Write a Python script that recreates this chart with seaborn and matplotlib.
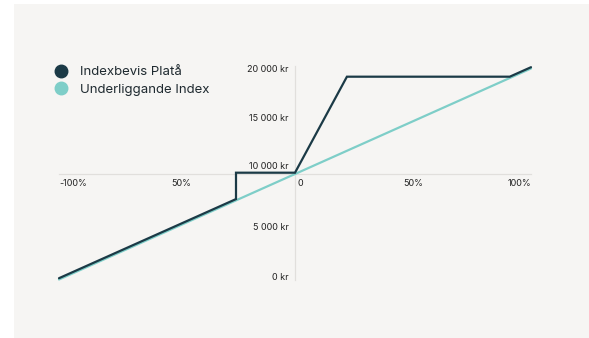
import matplotlib
matplotlib.use("Agg")
import matplotlib.pyplot as plt
import matplotlib.transforms as mtransforms
from matplotlib.lines import Line2D
import numpy as np
import pandas as pd
import seaborn as sns

# Index change (%) and value of a 10 000 kr investment
plata_change = [-100, -25, -25, 0, 22, 91, 100]
plata_value = [0, 7500, 10000, 10000, 19100, 19100, 20000]
index_change = [-100, 100]
index_value = [0, 20000]

series_names = ["Indexbevis Platå", "Underliggande Index"]
series_colors = ["#1b3a46", "#7ecec8"]

x_ticks = [-100, -50, 0, 50, 100]
x_tick_labels = ["-100%", "50%", "0", "50%", "100%"]
y_ticks = [0, 5000, 10000, 15000, 20000]
y_tick_labels = ["0 kr", "5 000 kr", "10 000 kr", "15 000 kr", "20 000 kr"]

sns.set_theme(style="white")
plt.rcParams["font.family"] = ["Inter", "DejaVu Sans"]

df = pd.concat([
    pd.DataFrame({"change": plata_change, "value": plata_value, "serie": series_names[0]}),
    pd.DataFrame({"change": index_change, "value": index_value, "serie": series_names[1]}),
], ignore_index=True)

W, H = 589, 338
fig = plt.figure(figsize=(W / 100, H / 100), dpi=100, facecolor="white")
panel_bg = "#f6f5f3"
ax = fig.add_axes([14 / W, 0, (W - 14) / W, (H - 4) / H])
ax.set_facecolor(panel_bg)

sns.lineplot(data=df, x="change", y="value", hue="serie", hue_order=series_names,
             palette=series_colors, estimator=None, sort=False, legend=False,
             linewidth=1.6, ax=ax)

# lift the certificate line slightly so both lines stay visible where they coincide
lines = ax.get_lines()
shift = mtransforms.ScaledTranslation(0, 1.3 / 100, fig.dpi_scale_trans)
lines[0].set_transform(ax.transData + shift)
lines[0].set_zorder(3)
lines[1].set_zorder(2)
lines[0].set_solid_joinstyle("miter")

px_per_pct = 2.36
ax.set_xlim(-100 - 45 / px_per_pct, 100 + 58 / px_per_pct)
px_per_kr = 0.01055
ax.set_ylim((279.5 - 338) / px_per_kr, (279.5 - 4) / px_per_kr)

# centred axes crossing at (0 %, 10 000 kr)
for s in ["top", "right"]:
    ax.spines[s].set_visible(False)
axis_col = "#e1dfdc"
ax.spines["left"].set_position(("data", 0))
ax.spines["bottom"].set_position(("data", 10000))
ax.spines["left"].set_bounds(0, 20200)
ax.spines["bottom"].set_bounds(-100, 100)
for s in ["left", "bottom"]:
    ax.spines[s].set_color(axis_col)
    ax.spines[s].set_linewidth(0.9)
    ax.spines[s].set_zorder(1)

ax.set_xticks(x_ticks)
ax.set_xticklabels(x_tick_labels)
ax.set_yticks(y_ticks)
ax.set_yticklabels(y_tick_labels)
ax.tick_params(axis="x", length=0, pad=3.5, labelsize=6.5, colors="#222222")
ax.tick_params(axis="y", length=0, pad=4.5, labelsize=6.5, colors="#222222")
for lab, ha in zip(ax.get_xticklabels(), ["left", "center", "left", "center", "right"]):
    lab.set_ha(ha)
xt = ax.get_xticklabels()
xt[2].set_transform(xt[2].get_transform() + mtransforms.ScaledTranslation(2 / 100, 0, fig.dpi_scale_trans))
xt[1].set_transform(xt[1].get_transform() + mtransforms.ScaledTranslation(4 / 100, 0, fig.dpi_scale_trans))
yt = ax.get_yticklabels()
yt[2].set_va("bottom")
yt[2].set_transform(yt[2].get_transform() + mtransforms.ScaledTranslation(0, 3 / 100, fig.dpi_scale_trans))
yt[3].set_transform(yt[3].get_transform() + mtransforms.ScaledTranslation(0, 4 / 100, fig.dpi_scale_trans))
yt[0].set_transform(yt[0].get_transform() + mtransforms.ScaledTranslation(0, 3 / 100, fig.dpi_scale_trans))
ax.set_xlabel("")
ax.set_ylabel("")

handles = [Line2D([], [], marker="o", linestyle="none", markersize=9,
                  markerfacecolor=c, markeredgecolor=c) for c in series_colors]
ax.legend(handles, series_names, loc="upper left",
          bbox_to_anchor=(55.5 / W, 1 - 66 / H), bbox_transform=fig.transFigure,
          frameon=False, fontsize=9.5, handlelength=0.8, handletextpad=1.05,
          labelspacing=0.42, borderpad=0, borderaxespad=0, labelcolor="#1f2a30")

fig.savefig("out.png", dpi=100, facecolor="white")
